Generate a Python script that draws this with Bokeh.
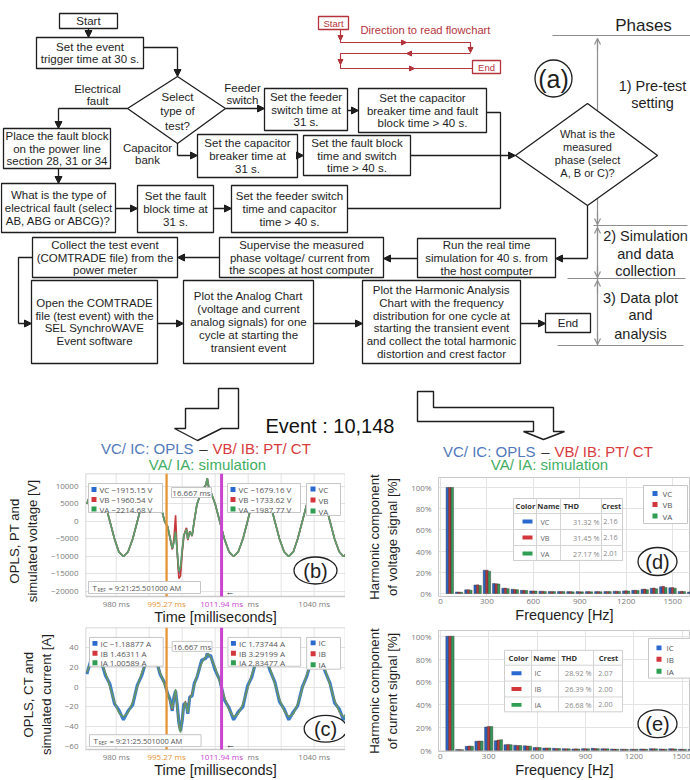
from bokeh.plotting import figure
from bokeh.models import (Range1d, FixedTicker, Arrow, NormalHead, OpenHead,
                          ColumnDataSource, PrintfTickFormatter)
from bokeh.layouts import column, row
from bokeh.embed import file_html
from bokeh.resources import INLINE
from bokeh.core.properties import value
from bokeh.transform import dodge

SANS = "Liberation Sans"
UI = "Open Sans"
INK = "#1e1e1e"

# ---------------- data: analog chart (time in ms) ----------------
t_pre = [971.1, 972.5, 973.9, 975.3, 976.7, 978.1, 979.5, 980.8, 982.2, 983.6, 985.0, 986.4,
         987.8, 989.2, 990.6, 992.0, 993.3, 994.7]
t_tr = [995.6, 996.3, 997.0, 997.5, 998.0, 998.5, 999.0, 999.5, 1000.0, 1000.5, 1001.0,
        1001.3, 1001.7, 1002.3, 1003.0, 1003.7]
t_post = [1004.5, 1005.9, 1007.2, 1007.6, 1008.0, 1008.6, 1010.0, 1011.4, 1012.8, 1014.2,
          1015.6, 1017.0, 1018.4, 1019.8, 1021.1, 1022.5, 1023.9, 1025.3, 1026.7, 1028.1,
          1029.5, 1030.9, 1032.3, 1033.7, 1035.0, 1036.4, 1037.8, 1039.2, 1040.6, 1042.0,
          1043.4, 1044.8, 1046.2, 1047.6, 1048.9, 1050.3]

# voltages [V]
v_pre = [5000, 8660, 10000, 8660, 5000, 0, -5000, -8660, -10000, -8660, -5000, 0,
         5000, 8660, 10000, 8660, 5000, 0]
v_post = [5000, 8660, 10500, 12400, 10000, 8660, 5000, 0, -5000, -8660, -10000, -8660,
          -5000, 0, 5000, 8660, 10000, 8660, 5000, 0, -5000, -8660, -10000, -8660, -5000, 0,
          5000, 8660, 10000, 8660, 5000, 0, -5000, -8660, -10000, -8660]
va_tr = [-1500, -4500, -7700, -6000, -2900, -8500, -14300, -13000, -8000, -3900, -3000,
         -2200, -5000, -3000, -4000, 500]
vb_tr = [-1500, -4700, -8000, -5000, 1800, -9000, -16300, -15500, -9000, -4200, -2500,
         -1800, -5300, -2800, -4200, 300]
vc_tr = [-1500, -4600, -7800, -5800, -2500, -8800, -15000, -14000, -8500, -4000, -2800,
         -2000, -5100, -2900, -4100, 400]

# currents [A]
ia_pre = [15, 26, 30, 26, 15, 0, -15, -26, -30, -26, -15, 0, 15, 26, 30, 26, 15, 2]
ia_tr = [-6, -14, -22, -12, -2, -20, -38, -46, -32, -20, -15, -20, -26, -12, -7, 2]
ib_tr = [-6, -15, -23, -11, -3, -21, -39, -45, -31, -19, -14, -21, -25, -11, -6, 2]
ia_post = [12, 24, 31, 33, 33, 30, 20, 5, -10, -23, -30, -27, -17, -2, 13, 25, 30, 28, 18, 3,
           -12, -24, -30, -27, -17, -2, 13, 25, 30, 27, 17, 2, -13, -25, -30, -27]
ic_pre = [13, 29, 27, 28, 12, 3, -17, -23, -33, -24, -18, 2, 12, 28, 27, 29, 13, 4]
ic_tr = [-7, -12, -24, -10, -4, -18, -36, -44, -34, -17, -17, -18, -27, -10, -9, 4]
ic_post = [10, 27, 29, 34, 31, 32, 17, 7, -13, -21, -33, -25, -20, 1, 10, 28, 27, 30, 16, 5,
           -15, -22, -33, -25, -19, 0, 11, 28, 28, 29, 15, 4, -16, -22, -33, -24]

cursor1 = 995.27
cursor2 = 1011.94
time_ticks = [980, 990, 1000, 1010, 1020, 1030, 1040]
# visible tick texts (the 1020 ms label is mostly hidden behind the cursor label)
time_tick_labels = {980: "980 ms", 1021.5: "ms", 1040: "1040 ms"}
v_ticks = [-20000, -15000, -10000, -5000, 0, 5000, 10000]
i_ticks = [-60, -40, -20, 0, 20, 40]
v_left_vals = ["VC \u22121915.15 V", "VB \u22121960.54 V", "VA \u22122214.68 V"]
v_right_vals = ["VC \u22121679.16 V", "VB \u22121733.62 V", "VA \u22121987.77 V"]
i_left_vals = ["IC \u22121.18877 A", "IB 1.46311 A", "IA 1.00589 A"]
i_right_vals = ["IC 1.73744 A", "IB 3.29199 A", "IA 2.83477 A"]
v_names = ["VC", "VB", "VA"]
i_names = ["IC", "IB", "IA"]

# ---------------- data: harmonic charts ----------------
freq_v = [60, 120, 180, 240, 300, 360, 420, 480, 540, 600, 660, 720, 780, 840, 900, 960,
          1020, 1080, 1140, 1200, 1260, 1320, 1380, 1440, 1500, 1560, 1620]
vc_h = [100, 1.5, 3.5, 8, 22, 9.5, 5, 4, 3, 2.5, 2.2, 2, 2, 1.8, 1.8, 1.8, 1.8, 2, 2.2, 2.5,
        3, 4, 5, 6.5, 5.5, 2, 1.5]
vb_h = [100, 1.4, 3.6, 8.2, 22, 9.3, 5.1, 3.9, 3, 2.4, 2.2, 2, 1.9, 1.8, 1.7, 1.8, 1.9, 2,
        2.2, 2.6, 3.1, 4.2, 5.2, 6.8, 5.6, 2.1, 1.4]
va_h = [100, 1.2, 3.2, 7.5, 21, 9, 4.6, 3.6, 2.8, 2.3, 2, 1.8, 1.8, 1.6, 1.6, 1.6, 1.7, 1.8,
        2, 2.3, 2.8, 3.6, 4.5, 5.8, 5, 1.8, 1.3]
freq_i = [60, 120, 180, 240, 300, 360, 420, 480, 540, 600, 660, 720, 780, 840, 900, 960,
          1020, 1080, 1140, 1200, 1260, 1320, 1380, 1440, 1500, 1560]
ic_h = [100, 0.8, 3.5, 8, 20.5, 8.5, 5, 4.5, 4, 2.5, 2, 1.8, 1.5, 1.2, 1.5, 1.8, 1.5, 1.2, 1,
        1, 1.2, 1.5, 1.2, 1.5, 1, 0.8]
ib_h = [100, 0.7, 3.8, 8.2, 21, 9, 5.2, 4.3, 3.8, 2.6, 2.1, 1.7, 1.4, 1.3, 1.4, 1.6, 1.4, 1.1,
        1, 0.9, 1.1, 1.4, 1.1, 1.3, 0.9, 0.7]
ia_h = [100, 0.6, 3.6, 8.1, 20.8, 9.3, 5, 4.2, 3.7, 2.5, 2, 1.6, 1.3, 1.2, 1.3, 1.5, 1.3, 1,
        0.9, 0.9, 1, 1.3, 1, 1.2, 0.8, 0.6]
thd_v = ["31.32 %", "31.45 %", "27.17 %"]
crest_v = ["2.16", "2.16", "2.01"]
thd_i = ["28.92 %", "26.39 %", "26.68 %"]
crest_i = ["2.07", "2.00", "2.00"]

# ---------------- colours ----------------
BLUE, RED, GREEN = "#2a6ad0", "#d3373d", "#2f9e52"
WBLUE, WRED, WGREEN = "#3b7fcb", "#c8383a", "#5d9f69"
ORANGE, MAGENTA = "#e59436", "#c945cf"
T_BLUE, T_RED, T_GREEN = "#5079bb", "#d93a3c", "#3fae62"
FLOW_RED = "#b5343c"
GRAY = "#8e8e8e"
GRID = "#e3e3e3"
OUTLINE = "#c9c9c9"


def fs(px):
    return f"{px:.1f}px"


# =============== top figure: flowchart ===============
pt = figure(width=690, height=472, x_range=Range1d(0, 690), y_range=Range1d(472, 0),
            toolbar_location=None, output_backend="svg", x_axis_location=None,
            y_axis_location=None, min_border=0, outline_line_color=None)
pt.grid.visible = False


def t_text(x, y, s, size=11.5, color=INK, align="center", style="normal"):
    pt.text(x=[x], y=[y], text=[s], text_font=value(SANS), text_font_size=fs(size),
            text_color=color, text_align=align, text_baseline="middle", text_font_style=style)


def t_line(xs, ys, color=INK, width=1.3):
    pt.line(xs, ys, line_color=color, line_width=width)


def t_arrow(x0, y0, x1, y1, color=INK, width=1.3, size=7, open_head=False):
    if open_head:
        head = OpenHead(size=size, line_color=color, line_width=width)
    else:
        head = NormalHead(size=size, fill_color=color, line_color=color, line_width=1)
    pt.add_layout(Arrow(end=head, x_start=x0, y_start=y0, x_end=x1, y_end=y1,
                        line_color=color, line_width=width))


def conn(pts, arrow=True, color=INK):
    xs = [q[0] for q in pts]
    ys = [q[1] for q in pts]
    if arrow:
        if len(pts) > 2:
            t_line(xs[:-1], ys[:-1], color)
        t_arrow(xs[-2], ys[-2], xs[-1], ys[-1], color)
    else:
        t_line(xs, ys, color)


def t_box(l, r, t, b, lines, color=INK, size=11.5, lh=12.8):
    pt.quad(left=[l], right=[r], top=[t], bottom=[b], fill_color="white",
            line_color=color, line_width=1.3)
    cy = (t + b) / 2
    n = len(lines)
    for i, s in enumerate(lines):
        t_text((l + r) / 2, cy + (i - (n - 1) / 2) * lh, s, size=size, color=color)


# phases scale (drawn first so the diamond covers it)
t_line([552, 690], [35, 35], GRAY, 1.2)
t_line([597, 597], [38, 345], GRAY, 1.2)
t_line([593, 687], [225, 225], GRAY, 1.2)
t_line([567, 685], [278, 278], GRAY, 1.2)
t_line([557, 683], [345, 345], GRAY, 1.2)
t_arrow(597, 50, 597, 38, GRAY, 1.2, 6, True)
t_arrow(597, 212, 597, 224, GRAY, 1.2, 6, True)
t_arrow(597, 240, 597, 227, GRAY, 1.2, 6, True)
t_arrow(597, 265, 597, 277, GRAY, 1.2, 6, True)
t_arrow(597, 293, 597, 280, GRAY, 1.2, 6, True)
t_arrow(597, 332, 597, 344, GRAY, 1.2, 6, True)
t_text(643, 25, "Phases", 17)
t_text(652, 85, "1) Pre-test", 14.5)
t_text(652, 102, "setting", 14.5)
t_text(645, 235, "2) Simulation", 14.5)
t_text(645, 253, "and data", 14.5)
t_text(645, 270, "collection", 14.5)
t_text(640, 297, "3) Data plot", 14.5)
t_text(640, 314, "and", 14.5)
t_text(640, 333, "analysis", 14.5)

# connectors
conn([(88, 28), (88, 37)])
conn([(143, 47), (177, 47), (177, 76)])
conn([(127, 108), (58, 108), (58, 128)])
conn([(225, 108), (264, 108)])
conn([(177, 143), (177, 155), (197, 155)])
conn([(297, 155), (303, 155)])
conn([(347, 110), (358, 110)])
conn([(486, 112), (500, 112), (500, 208)], arrow=False)
conn([(347, 208), (500, 208)], arrow=False)
conn([(410, 155), (515, 155)])
conn([(58, 168), (58, 183)])
conn([(115, 208), (137, 208)])
conn([(213, 208), (231, 208)])
conn([(587, 205), (587, 258), (555, 258)])
conn([(417, 258), (383, 258)])
conn([(219, 257), (177, 257)])
conn([(32, 257), (18, 257), (18, 323), (31, 323)])
conn([(157, 323), (183, 323)])
conn([(313, 323), (362, 323)])
conn([(520, 323), (545, 323)])

# boxes
boxes = [
    (59, 117, 13, 28, ["Start"]),
    (36, 143, 37, 68, ["Set the event", "trigger time at 30 s."]),
    (264, 347, 88, 130, ["Set the feeder", "switch time at", "31 s."]),
    (197, 297, 134, 177, ["Set the capacitor", "breaker time at", "31 s."]),
    (303, 410, 135, 175, ["Set the fault block", "time and switch", "time > 40 s."]),
    (358, 486, 88, 132, ["Set the capacitor", "breaker time and fault", "block time > 40 s."]),
    (3, 110, 128, 168, ["Place the fault block", "on the power line", "section 28, 31 or 34"]),
    (1, 115, 183, 232, ["What is the type of", "electrical fault (select", "AB, ABG or ABCG)?"]),
    (137, 213, 185, 232, ["Set the fault", "block time at", "31 s."]),
    (231, 347, 185, 232, ["Set the feeder switch", "time and capacitor", "time > 40 s."]),
    (417, 555, 238, 277, ["Run the real time", "simulation for 40 s. from", "the host computer"]),
    (219, 383, 237, 277, ["Supervise the measured", "phase voltage/ current  from",
                          "the scopes at host computer"]),
    (32, 177, 237, 277, ["Collect the test event", "(COMTRADE file) from the", "power meter"]),
    (31, 157, 280, 363, ["Open the COMTRADE", "file (test event) with the", "SEL SynchroWAVE",
                         "Event software"]),
    (183, 313, 280, 363, ["Plot the Analog Chart", "(voltage and current",
                          "analog signals) for one", "cycle at starting the", "transient event"]),
    (362, 520, 280, 363, ["Plot the Harmonic Analysis", "Chart with the frequency",
                          "distribution for one cycle at", "starting the transient event",
                          "and collect the total harmonic", "distortion and crest factor"]),
    (545, 590, 313, 332, ["End"]),
]
for l, r, t, b, lines in boxes:
    t_box(l, r, t, b, lines)

# decision diamonds
pt.patch([127, 177, 225, 177], [108, 76, 108, 143], fill_color="white", line_color=INK,
         line_width=1.3)
t_text(177, 96, "Select")
t_text(177, 110, "type of")
t_text(177, 125, "test?")
pt.patch([515, 587, 657, 587], [155, 103, 155, 205], fill_color="white", line_color=INK,
         line_width=1.3)
t_text(587, 133, "What is the", 11)
t_text(587, 146, "measured", 11)
t_text(587, 159, "phase (select", 11)
t_text(587, 172, "A, B or C)?", 11)

t_text(97, 88, "Electrical")
t_text(97, 100, "fault")
t_text(242, 87, "Feeder")
t_text(242, 99, "switch")
t_text(147, 147, "Capacitor")
t_text(147, 159, "bank")

# (a) marker
pt.ellipse(x=[553], y=[78], width=[37], height=[37], fill_color="white", line_color=INK,
           line_width=1.3)
t_text(553, 78, "(a)", 25)

# reading-direction legend
t_box(318, 348, 16, 29, ["Start"], FLOW_RED, 9.5)
t_text(360, 29, "Direction to read flowchart", 11.2, FLOW_RED, "left")
t_line([340, 340, 470, 470], [29, 42, 42, 52], FLOW_RED, 1.1)
t_line([470, 340, 340, 472], [53, 53, 68, 68], FLOW_RED, 1.1)
t_arrow(396, 42, 406, 42, FLOW_RED, 1.1, 5)
t_arrow(416, 53, 406, 53, FLOW_RED, 1.1, 5)
t_arrow(404, 68, 414, 68, FLOW_RED, 1.1, 5)
t_arrow(340, 31, 340, 40, FLOW_RED, 1.1, 5)
t_arrow(470, 44, 470, 52, FLOW_RED, 1.1, 5)
t_arrow(340, 56, 340, 64, FLOW_RED, 1.1, 5)
t_box(472, 500, 60, 73, ["End"], FLOW_RED, 9.5)

# hollow arrows and event number
pt.patch([218, 238, 238, 221, 197, 174, 185, 185, 218],
         [388, 388, 428, 428, 440, 428, 428, 408, 408],
         fill_color="white", line_color=INK, line_width=1.4)
pt.patch([417, 433, 433, 553, 553, 564, 543, 523, 533, 533, 417],
         [391, 391, 407, 407, 431, 431, 439, 431, 431, 421, 421],
         fill_color="white", line_color=INK, line_width=1.4)
t_text(265, 425, "Event : 10,148", 20, "#111111", "left")

# chart titles
for xc, y1, y2 in [(203, 448, 463.5), (545, 451, 463.5)]:
    t_text(xc - 10, y1, "VC/ IC: OPLS", 15, T_BLUE, "right")
    t_text(xc, y1, "\u2013", 15, "#333333")
    t_text(xc + 9, y1, "VB/ IB: PT/ CT", 15, T_RED, "left")
    t_text(xc + 4, y2, "VA/ IA: simulation", 15, T_GREEN)


# =============== chart helpers ===============
def chart(w, h, xr, yr, left, top, bottom):
    p = figure(width=w, height=h, x_range=Range1d(*xr), y_range=Range1d(*yr),
               toolbar_location=None, output_backend="svg", min_border=0,
               min_border_left=left, min_border_right=0, min_border_top=top,
               min_border_bottom=bottom)
    p.outline_line_color = OUTLINE
    p.grid.grid_line_color = GRID
    for ax in p.axis:
        ax.axis_line_color = None
        ax.major_tick_line_color = None
        ax.minor_tick_line_color = None
        ax.major_tick_out = 0
        ax.major_tick_in = 0
        ax.major_label_text_font = UI
        ax.major_label_text_font_size = "8px"
        ax.major_label_text_color = "#7a7a7a"
        ax.axis_label_text_font = SANS
        ax.axis_label_text_font_style = "normal"
        ax.axis_label_text_color = INK
    p.xaxis.major_label_standoff = 2
    p.xaxis.axis_label_standoff = 0
    p.xaxis.axis_label_text_font_size = fs(14.5)
    p.yaxis.major_label_standoff = 7
    p.yaxis.axis_label_standoff = 8
    p.yaxis.axis_label_text_font_size = fs(13.2)
    return p


def mapper(p, frame):
    L, R, T, B = frame
    x0, x1 = p.x_range.start, p.x_range.end
    y0, y1 = p.y_range.start, p.y_range.end
    return (lambda X: x0 + (X - L) / (R - L) * (x1 - x0),
            lambda Y: y1 - (Y - T) / (B - T) * (y1 - y0))


def rbox(p, m, l, r, t, b, fill="white", line="#c6c6c6", lw=1.0):
    fx, fy = m
    p.quad(left=[fx(l)], right=[fx(r)], top=[fy(t)], bottom=[fy(b)], fill_color=fill,
           line_color=line, line_width=lw)


def rseg(p, m, x0, y0, x1, y1, color="#c6c6c6", lw=1.0):
    fx, fy = m
    p.segment(x0=[fx(x0)], y0=[fy(y0)], x1=[fx(x1)], y1=[fy(y1)], line_color=color,
              line_width=lw)


def rtext(p, m, x, y, s, size=8, color="#555555", align="left", style="normal", font=UI):
    fx, fy = m
    p.text(x=[fx(x)], y=[fy(y)], text=[s], text_font=value(font), text_font_size=f"{size}px",
           text_color=color, text_align=align, text_baseline="middle", text_font_style=style)


def rcircle(p, m, cx, cy, rx, ry, label):
    fx, fy = m
    p.ellipse(x=[fx(cx)], y=[fy(cy)], width=[fx(cx + rx) - fx(cx - rx)],
              height=[fy(cy - ry) - fy(cy + ry)], fill_color="white", fill_alpha=0.9,
              line_color=INK, line_width=1.3)
    rtext(p, m, cx, cy, label, 20, INK, "center", font=SANS)


def value_legend(p, m, l, r, t, b, rows, labels, sq_x, tx):
    rbox(p, m, l, r, t, b)
    for yy, c, s in zip(rows, [BLUE, RED, GREEN], labels):
        rbox(p, m, sq_x, sq_x + 5, yy - 2.5, yy + 2.5, fill=c, line=None)
        rtext(p, m, tx, yy, s, 8)


def analog_fig(h, yr, frame, label_row, bottom_border, y_ticks, ylab):
    """Figure whose frame also holds the tick-label row (so coloured cursor labels fit)."""
    L, R, T, B = frame
    y0, y1 = yr
    per_px = (y1 - y0) / (B - T)
    y_ext = y0 - (label_row - B) * per_px
    frame_h = label_row - T
    p = chart(345, h, (970.7, 1049.5), (y_ext, y1), L, h - bottom_border - frame_h,
              bottom_border)
    p.outline_line_color = None
    p.xgrid.visible = False
    p.xaxis.ticker = FixedTicker(ticks=[])
    p.xaxis.major_label_standoff = 0
    p.xaxis.axis_label_standoff = 0
    p.xaxis.axis_label = "Time [milliseconds]"
    p.yaxis.ticker = FixedTicker(ticks=y_ticks)
    p.yaxis.axis_label = ylab
    # vertical grid lines and outline of the plotting area
    p.segment(x0=time_ticks, y0=[y0] * len(time_ticks), x1=time_ticks,
              y1=[y1] * len(time_ticks), line_color=GRID, line_width=1)
    p.quad(left=[970.7], right=[1049.5], top=[y1], bottom=[y0], fill_color=None,
           line_color=OUTLINE, line_width=1.5)
    return p, (L, R, T, label_row), y0, y1


def analog(p, m, y0, y1, T, left_vals, right_vals, names, y_bottom, y_tick_lab, circ, lab):
    fx, fy = m
    p.segment(x0=[cursor1], y0=[y0], x1=[cursor1], y1=[y1], line_color=ORANGE, line_width=2.3)
    p.segment(x0=[cursor2], y0=[y0], x1=[cursor2], y1=[y1], line_color=MAGENTA, line_width=3)
    rows = [T + 16, T + 26, T + 35.5]
    value_legend(p, m, 88, 162, T + 10, T + 39, rows, left_vals, 91, 99)
    rbox(p, m, 171, 211, T + 14, T + 24)
    rtext(p, m, 191, T + 19, "16.667 ms", 8, "#555555", "center")
    value_legend(p, m, 227, 300, T + 10, T + 39, rows, right_vals, 230, 238)
    value_legend(p, m, 306, 340, T + 10, T + 42, [T + 15.5, T + 26.5, T + 37.5], names, 310, 318)
    rbox(p, m, 88, 200, y_bottom - 6, y_bottom + 6)
    rtext(p, m, 92, y_bottom, "T", 8)
    rtext(p, m, 97, y_bottom + 2, "REF", 5)
    rtext(p, m, 108, y_bottom, "= 9:21:25.501000 AM", 7.5)
    rtext(p, m, 229.5, y_bottom + 4, "\u2190", 9, INK, "center", "bold")
    rcircle(p, m, circ[0], circ[1], 21.5, 13.5, lab)
    # tick-label row
    yl = fy(y_tick_lab)
    p.text(x=list(time_tick_labels.keys()), y=[yl] * len(time_tick_labels),
           text=list(time_tick_labels.values()), text_font=value(UI), text_font_size="8px",
           text_color="#7a7a7a", text_align="center", text_baseline="middle")
    p.text(x=[cursor1], y=[yl], text=["995.27 ms"], text_font=value(UI), text_font_size="8px",
           text_color=ORANGE, text_align="center", text_baseline="middle")
    p.text(x=[cursor2], y=[yl], text=["1011.94 ms"], text_font=value(UI),
           text_font_size="8px", text_color=MAGENTA, text_align="center",
           text_baseline="middle")


# =============== (b) voltage analog chart ===============
t_all = t_pre + t_tr + t_post
va = v_pre + va_tr + v_post
vb = v_pre + vb_tr + v_post
vc = v_pre + vc_tr + v_post

pb, fb, yb0, yb1 = analog_fig(155, (-21430, 13710), (85, 345, 473, 596), 608, 19, v_ticks,
                              "OPLS, PT and\nsimulated voltage [V]")
pb.line(t_all, vc, line_color=WBLUE, line_width=1.6)
pb.line(t_all, vb, line_color=WRED, line_width=1.6)
pb.line(t_all, va, line_color=WGREEN, line_width=1.7)
analog(pb, mapper(pb, fb), yb0, yb1, 473, v_left_vals, v_right_vals, v_names, 587, 602.5,
       (315, 570), "(b)")

# =============== (c) current analog chart ===============
ia = ia_pre + ia_tr + ia_post
ib = ia_pre + ib_tr + ia_post
ic = ic_pre + ic_tr + ic_post

pc, fc, yc0, yc1 = analog_fig(153, (-63, 60), (84, 345, 627, 750), 762, 18, i_ticks,
                              "OPLS, CT and\nsimulated current [A]")
pc.line(t_all, ic, line_color=WBLUE, line_width=3.2)
pc.line(t_all, ib, line_color=WRED, line_width=1.2)
pc.line(t_all, ia, line_color=WGREEN, line_width=1.4)
analog(pc, mapper(pc, fc), yc0, yc1, 627, i_left_vals, i_right_vals, i_names, 741, 756.5,
       (325, 729), "(c)")


# =============== harmonic charts ===============
def harmonic(p, frame, freqs, series, names, thd, crest, bw, ylab, leg, table, circ, lab):
    m = mapper(p, frame)
    p.xaxis.ticker = FixedTicker(ticks=[0, 300, 600, 900, 1200, 1500])
    p.yaxis.ticker = FixedTicker(ticks=[0, 20, 40, 60, 80, 100])
    p.yaxis.formatter = PrintfTickFormatter(format="%d%%")
    p.xaxis.axis_label = "Frequency [Hz]"
    p.yaxis.axis_label = ylab
    src = ColumnDataSource(dict(f=freqs, s0=series[0], s1=series[1], s2=series[2]))
    for off, key, col in [(-bw, "s0", "#2b63c6"), (0, "s1", "#b8383c"), (bw, "s2", "#35985a")]:
        p.vbar(x=dodge("f", off, range=p.x_range), top=key, width=bw, source=src,
               fill_color=col, line_color="#2d2d2d", line_width=0.5, line_alpha=0.8)
    # legend
    l, r, t, b, rows, sqx, tx = leg
    value_legend(p, m, l, r, t, b, rows, names, sqx, tx)
    # table
    (tl, tr, tt, tb, hlines, vlines, hy, hx, rys, swx, namex, thdx, crx) = table
    rbox(p, m, tl, tr, tt, tb, line="#cfcfcf")
    for yy in hlines:
        rseg(p, m, tl, yy, tr, yy, "#d4d4d4")
    for xx in vlines:
        rseg(p, m, xx, tt, xx, tb, "#d4d4d4")
    for (xx, al), s in zip(hx, ["Color", "Name", "THD", "Crest"]):
        rtext(p, m, xx, hy, s, 7.5, "#333333", al, "bold")
    for yy, c, nm, th, cr in zip(rys, [BLUE, RED, GREEN], names, thd, crest):
        rbox(p, m, swx, swx + 10, yy - 2, yy + 2, fill=c, line=None)
        rtext(p, m, namex, yy, nm, 7.3, "#666666")
        rtext(p, m, thdx, yy, th, 7.3, "#888888", "right")
        rtext(p, m, crx, yy, cr, 7.3, "#888888", "center")
    rcircle(p, m, circ[0], circ[1], 19.5, 14, lab)


pd_ = chart(345, 155, (-13, 1616), (-2.8, 109.4), 93, 5, 31)
harmonic(pd_, (438, 690, 477, 596), freq_v, [vc_h, vb_h, va_h], v_names, thd_v, crest_v, 16,
         "Harmonic component\nof voltage signal [%]",
         (643, 687, 485, 523, [493, 504, 515.5], 652, 662),
         (513, 622, 498, 560, [513, 529, 545], [536, 560, 601], 505,
          [(525, "center"), (548, "center"), (563, "left"), (611, "center")],
          [521, 537, 553], 522, 540, 599, 610),
         (657, 561), "(d)")

pe = chart(345, 153, (-11, 1550), (-1, 105), 93, 3, 28)
harmonic(pe, (438, 690, 630, 752), freq_i, [ic_h, ib_h, ia_h], i_names, thd_i, crest_i, 17,
         "Harmonic component\nof current signal [%]",
         (648, 690, 638, 678, [647.5, 659, 671], 656, 666),
         (504, 622, 650, 712, [665, 681, 697], [531, 558, 593], 658,
          [(518, "center"), (544, "center"), (561, "left"), (608, "center")],
          [673, 689, 705], 511, 534, 591, 605),
         (657, 724), "(e)")

layout = column(pt, row(column(pb, pc), column(pd_, pe)))
open("out.html", "w").write(file_html(layout, INLINE))
